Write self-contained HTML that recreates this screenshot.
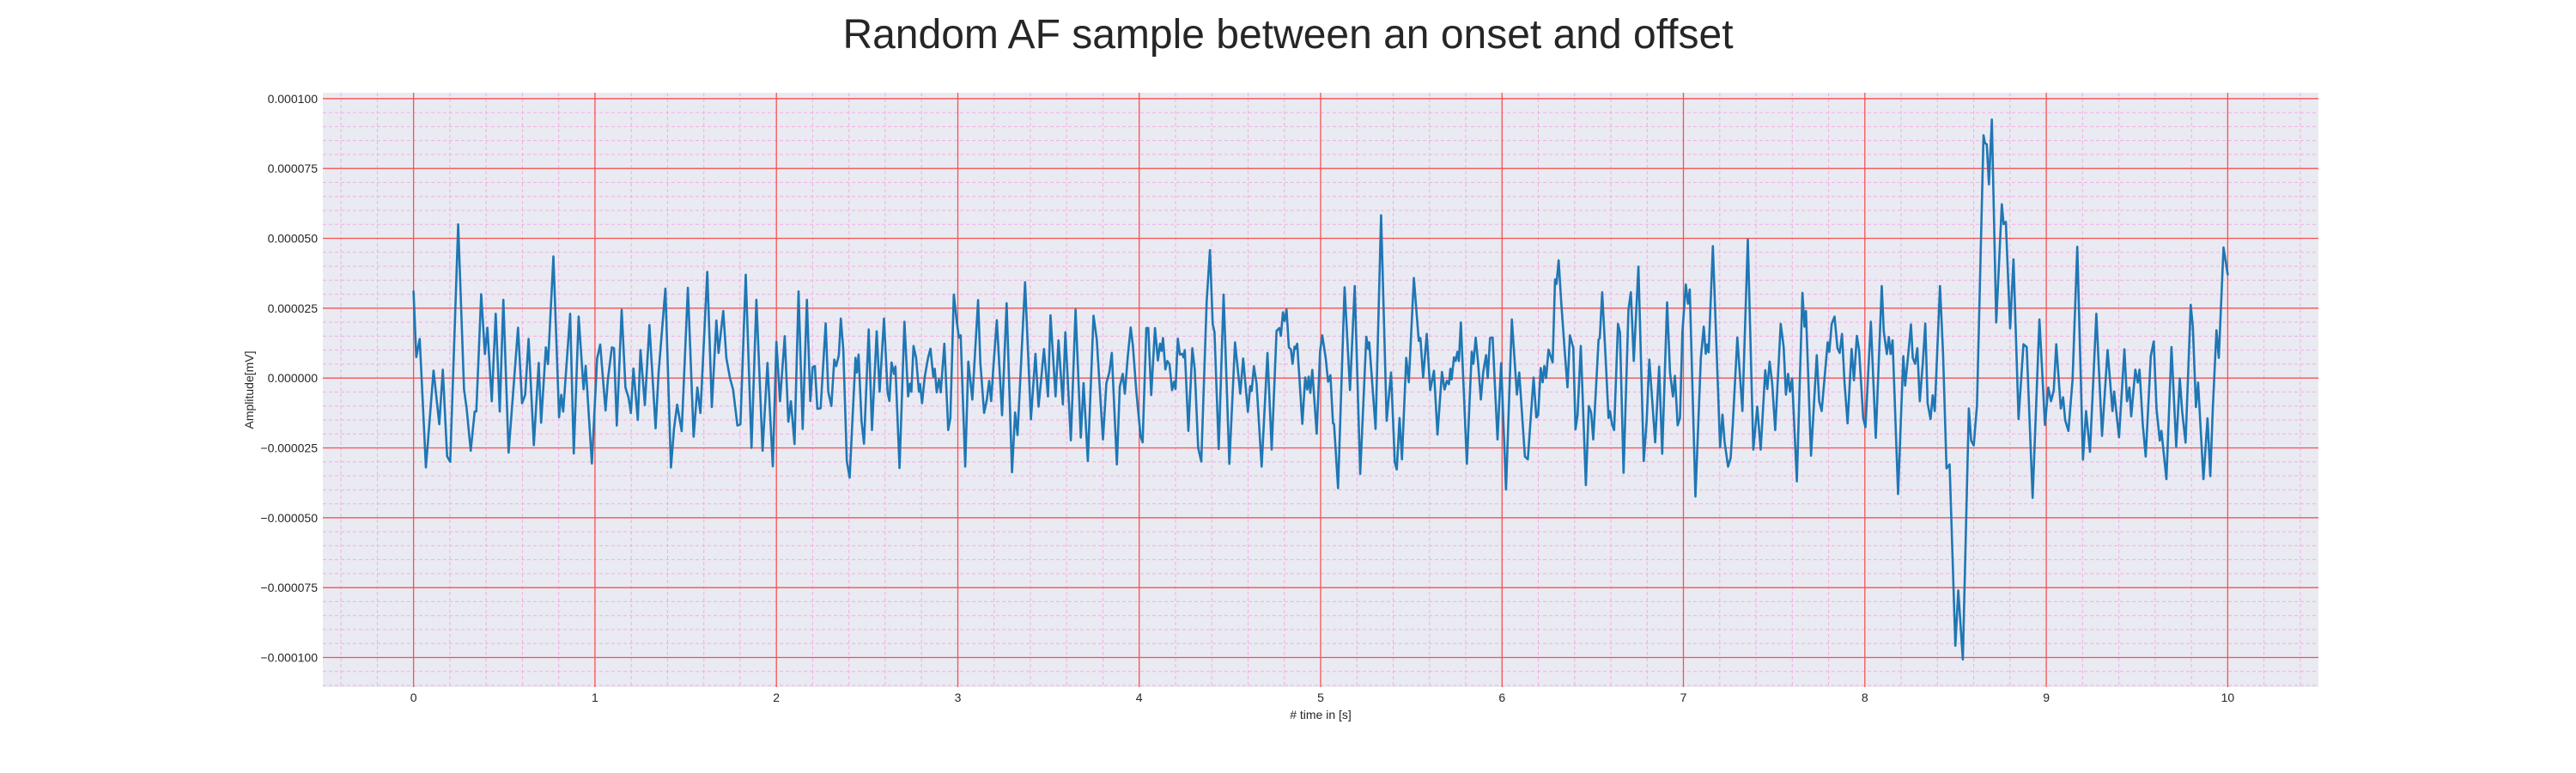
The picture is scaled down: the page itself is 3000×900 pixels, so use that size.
<!DOCTYPE html>
<html><head><meta charset="utf-8">
<style>
html,body{margin:0;padding:0;background:#fff;}
svg{display:block;font-family:"Liberation Sans",Arial,sans-serif;}
</style></head>
<body>
<svg id="chart" width="3000" height="900" viewBox="0 0 3000 900" xmlns="http://www.w3.org/2000/svg">
  <text x="1500" y="56" text-anchor="middle" font-size="48" fill="#262626">Random AF sample between an onset and offset</text>
  <rect x="376" y="108" width="2324" height="692" fill="#eaeaf2"/>
  <g id="minor-grid"></g>
  <g id="major-grid"></g>
  <g id="series"></g>
  <g id="yticks"></g>
  <g id="xticks"></g>
  <text x="1538" y="837" text-anchor="middle" font-size="14" fill="#262626"># time in [s]</text>
  <text x="0" y="0" transform="translate(295,454) rotate(-90)" text-anchor="middle" font-size="14" fill="#262626">Amplitude[mV]</text>
</svg>
<script>
// ---- data ----
const xTickValues = [0,1,2,3,4,5,6,7,8,9,10];
const yTickValues = [0.0001,0.000075,0.00005,0.000025,0,-0.000025,-0.00005,-0.000075,-0.0001];
const yTickLabels = ["0.000100","0.000075","0.000050","0.000025","0.000000","\u22120.000025","\u22120.000050","\u22120.000075","\u22120.000100"];
const timeS = [
0.000,0.015,0.034,0.068,0.110,0.142,0.161,0.185,0.202,0.246,0.278,0.293,0.315,0.337,0.346,0.373,0.393,0.407,0.431,0.453,0.475,0.495,0.524,0.576,0.598,0.615,0.634,0.663,0.690,0.703,0.729,0.741,0.771,0.802,0.814,0.825,0.863,0.883,0.910,0.937,0.949,0.983,1.012,1.029,1.058,1.071,1.093,1.105,1.120,1.147,1.168,1.185,1.198,1.212,1.236,1.251,1.275,1.300,1.334,1.351,1.388,1.419,1.436,1.453,1.478,1.512,1.544,1.564,1.581,1.619,1.644,1.669,1.681,1.707,1.724,1.744,1.761,1.785,1.802,1.831,1.863,1.890,1.924,1.951,1.980,2.000,2.020,2.046,2.066,2.080,2.100,2.122,
2.145,2.168,2.187,2.200,2.212,2.226,2.244,2.272,2.286,2.303,2.319,2.330,2.344,2.355,2.369,2.388,2.404,2.436,2.443,2.453,2.469,2.483,2.509,2.527,2.553,2.569,2.593,2.613,2.623,2.635,2.648,2.656,2.679,2.706,2.726,2.736,2.744,2.756,2.770,2.786,2.792,2.803,2.818,2.836,2.849,2.865,2.873,2.884,2.896,2.906,2.926,2.947,2.959,2.978,2.994,3.006,3.016,3.041,3.058,3.080,3.112,3.124,3.145,3.160,3.173,3.184,3.195,3.215,3.244,3.269,3.299,3.316,3.329,3.371,3.403,3.428,3.445,3.458,3.475,3.497,3.511,3.539,3.555,3.579,3.593,3.623,3.649,3.678,3.693,3.717,3.748,3.766,3.800,3.819,3.835,3.849,3.877,3.893,3.909,3.921,3.937,3.953,3.965,3.984,4.008,4.019,4.039,4.050,
4.066,4.087,4.103,4.115,4.123,4.131,4.144,4.155,4.167,4.181,4.192,4.200,4.213,4.224,4.237,4.244,4.251,4.271,4.293,4.306,4.325,4.342,4.372,4.390,4.405,4.415,4.438,4.465,4.497,4.528,4.557,4.573,4.599,4.612,4.620,4.632,4.647,4.675,4.707,4.730,4.757,4.773,4.781,4.792,4.801,4.812,4.825,4.836,4.845,4.856,4.861,4.871,4.899,4.915,4.926,4.934,4.943,4.954,4.978,4.997,5.009,5.028,5.041,5.054,5.068,5.074,5.096,5.132,5.162,5.188,5.218,5.252,5.262,5.268,5.303,5.333,5.364,5.388,5.409,5.420,5.435,5.448,5.472,5.486,5.514,5.541,5.550,5.565,5.585,5.604,5.625,5.644,5.669,5.683,5.696,5.707,5.715,5.722,5.735,5.744,5.754,5.762,5.773,5.806,5.833,5.842,5.855,5.868,5.883,5.896,5.912,5.921,5.934,5.948,5.975,5.995,6.022,
6.054,6.082,6.095,6.126,6.142,6.174,6.189,6.199,6.213,6.224,6.233,6.243,6.256,6.279,6.292,6.300,6.312,6.326,6.347,6.361,6.374,6.393,6.405,6.416,6.434,6.462,6.478,6.491,6.503,6.532,6.539,6.552,6.571,6.587,6.595,6.606,6.618,6.639,6.650,6.670,6.697,6.710,6.726,6.752,6.781,6.797,6.812,6.844,6.866,6.883,6.910,6.926,6.942,6.953,6.968,6.981,6.994,7.013,7.025,7.035,7.066,7.096,7.112,7.123,7.132,7.139,7.162,7.202,7.215,7.227,7.246,7.260,7.273,7.297,7.325,7.355,7.385,7.407,7.426,7.451,7.462,7.475,7.489,7.506,7.536,7.552,7.565,7.577,7.587,7.599,7.625,7.656,7.667,7.675,7.703,7.735,7.748,7.762,7.795,7.804,7.817,7.833,7.849,7.861,7.874,7.888,7.905,7.927,7.940,7.956,7.968,7.991,8.003,8.014,
8.033,8.060,8.093,8.104,8.121,8.132,8.142,8.153,8.183,8.212,8.222,8.235,8.254,8.264,8.277,8.289,8.303,8.320,8.333,8.346,8.362,8.374,8.385,8.414,8.431,8.450,8.467,8.499,8.515,8.540,8.573,8.586,8.600,8.618,8.654,8.662,8.672,8.684,8.700,8.724,8.755,8.765,8.777,8.801,8.819,8.847,8.874,8.892,8.925,8.962,8.993,9.011,9.026,9.041,9.055,9.080,9.093,9.104,9.122,9.145,9.171,9.202,9.219,9.241,9.276,9.307,9.338,9.365,9.374,9.401,9.431,9.445,9.458,9.468,9.491,9.504,9.514,9.532,9.548,9.576,9.592,9.608,9.626,9.635,9.662,9.690,9.716,9.736,9.749,9.768,9.796,9.808,9.825,9.837,9.866,9.889,9.904,9.918,9.938,9.951,9.977,10.000
];
// amplitude in units of 1e-5 mV
const ampE5 = [
3.1,0.75,1.4,-3.2,0.27,-1.65,0.3,-2.8,-3.0,5.5,-0.4,-1.1,-2.6,-1.2,-1.2,3.0,0.86,1.8,-0.83,2.3,-1.2,2.8,-2.67,1.8,-0.9,-0.6,1.4,-2.4,0.54,-1.6,1.1,0.5,4.35,-1.4,-0.6,-1.2,2.3,-2.7,2.2,-0.4,0.44,-3.06,0.7,1.2,-1.16,-0.06,1.1,1.07,-1.7,2.44,-0.34,-0.7,-1.25,0.34,-1.5,1.0,-0.97,1.9,-1.8,0.23,3.2,-3.2,-1.8,-0.95,-1.9,3.23,-2.1,-0.34,-1.25,3.8,-1.04,2.06,0.9,2.4,0.72,0,-0.4,-1.7,-1.65,3.7,-2.5,2.8,-2.6,0.54,-3.16,1.3,-0.83,1.5,-1.56,-0.83,-2.36,3.1,
-1.82,2.8,-0.82,0.39,0.43,-1.1,-1.08,1.96,-0.49,-1.0,0.66,0.43,0.82,2.13,1.02,-2.97,-3.56,0.72,0.2,0.84,-1.53,-2.35,1.74,-1.86,1.67,-0.49,2.13,-0.51,-0.82,0.56,0.15,0.41,-3.22,2.02,-0.66,-0.2,-0.49,1.15,0.72,-0.49,-0.22,-0.9,0.05,0.72,1.05,0.05,0.33,-0.51,-0.05,-0.51,1.23,-1.86,-1.43,2.99,2.04,1.45,1.53,-3.17,0.59,-0.77,2.79,0.56,-1.25,-0.77,-0.1,-0.82,0.31,2.07,-1.33,2.68,-3.37,-1.23,-2.04,3.43,-1.48,0.87,-1.02,-0.15,1.04,-0.66,2.25,-0.66,1.35,-0.94,1.64,-2.23,2.45,-2.13,-0.18,-2.97,2.23,1.38,-2.2,-0.18,0.2,0.9,-3.09,-0.31,0.15,-0.56,0.77,1.81,1.18,-0.46,-2.1,-2.3,1.79,1.79,
-0.61,1.79,0.63,1.23,0.97,1.43,0.31,0.61,0.49,-0.43,-0.13,-0.39,1.41,0.84,0.87,0.74,1.0,-1.89,1.07,0.31,-2.5,-2.99,2.76,4.58,1.94,1.64,-2.54,2.99,-3.07,1.28,-0.56,0.7,-1.21,-0.29,-0.46,0.43,-0.2,-3.17,0.9,-2.56,1.69,1.79,1.51,2.35,2.04,2.45,1.1,1.02,0.51,1.12,1.04,1.23,-1.64,0.02,-0.41,0.05,-0.53,0.29,-1.99,0.97,1.53,0.72,-0.13,0.1,-1.62,-1.64,-3.94,3.25,-0.43,3.29,-3.43,1.48,1.04,1.28,-1.82,5.83,-1.53,0.2,-3.02,-3.27,-1.43,-2.91,0.72,-0.15,3.58,1.33,1.43,0.02,1.58,-0.43,0.26,-2.02,0.22,-0.41,-0.1,-0.22,0.33,-0.05,0.74,0.61,0.94,0.61,1.99,-3.07,0.94,0.51,1.45,0.53,-0.77,0.2,0.82,0,1.43,1.45,-2.2,0.53,-3.99,
2.1,-0.59,0.2,-2.81,-2.91,0.02,-1.41,-1.33,0.36,-0.15,0.43,0,1.02,0.56,3.53,3.37,4.21,2.76,0.82,-0.33,1.53,1.07,-1.84,-1.33,1.15,-3.83,-1.0,-1.23,-2.2,1.38,1.43,3.07,0.72,-1.43,-1.18,-1.64,-1.86,1.94,1.64,-3.39,2.45,3.07,0.61,3.99,-2.97,-1.53,0.66,-2.3,0.41,-2.71,2.71,0.2,-0.66,0.08,-1.69,-1.43,1.64,3.35,2.66,3.17,-4.24,0.72,1.84,0.87,1.2,0.92,4.72,-2.47,-1.31,-2.3,-3.17,-2.86,-1.53,1.45,-1.18,4.96,-2.56,-1.02,-2.56,0.28,-0.39,0.59,-0.2,-1.86,1.94,1.12,-0.59,0.15,-0.49,-0.02,-3.7,3.05,1.84,2.4,-2.78,0.82,-0.82,-1.18,1.28,0.94,1.94,2.2,1.07,0.9,1.58,-0.2,-1.62,1.04,-0.08,1.51,1.0,-1.43,-1.76,-0.36,
2.02,-2.14,3.29,1.68,0.86,1.47,0.86,1.35,-4.15,0.79,-0.27,0.58,1.92,0.72,0.51,1.07,-0.83,0.58,1.95,-0.9,-1.47,-0.62,-1.18,3.29,0.86,-3.23,-3.09,-9.58,-7.6,-10.07,-1.09,-2.24,-2.41,-0.97,8.69,8.41,8.36,6.93,9.25,1.99,6.22,5.51,5.59,1.78,4.25,-1.47,1.21,1.11,-4.29,2.1,-1.68,-0.34,-0.83,-0.44,1.21,-1.09,-0.69,-1.51,-1.89,-0.06,4.7,-2.92,-1.18,-2.64,2.3,-2.07,1.0,-1.18,-0.48,-2.12,1.03,-0.83,-0.34,-1.37,0.3,-0.16,0.3,-1.68,-2.81,0.79,1.31,-1.11,-2.24,-1.89,-3.62,1.11,-2.45,-0.01,-1.18,-2.31,2.62,1.82,-1.04,-0.16,-3.62,-1.44,-3.51,-1.11,1.71,0.72,4.67,3.71
];

// ---- axes ----
const PX0 = 376, PX1 = 2700, PY0 = 108, PY1 = 800;
const XMIN = -0.5, XMAX = 10.5, YMIN = -1.106e-4, YMAX = 1.021e-4;
function xScale(t){ return PX0 + (t - XMIN) / (XMAX - XMIN) * (PX1 - PX0); }
function yScale(v){ return PY1 - (v - YMIN) / (YMAX - YMIN) * (PY1 - PY0); }
const NS = "http://www.w3.org/2000/svg";
function mk(tag, attrs){ const e = document.createElementNS(NS, tag); for (const k in attrs) e.setAttribute(k, attrs[k]); return e; }

const minorG = document.getElementById('minor-grid');
for (let i = -2; i <= 52; i++) {
  const t = i * 0.2; if (i % 5 === 0) continue;
  const x = xScale(t).toFixed(1);
  const l = mk('line', {x1:x, x2:x, y1:PY0, y2:PY1, stroke:'#f2aee2', 'stroke-width':1, 'stroke-dasharray':'4,3'});
  
  
  minorG.appendChild(l);
}
for (let i = -22; i <= 20; i++) {
  if (i % 5 === 0) continue;
  const y = yScale(i * 0.5e-5).toFixed(1);
  const l = mk('line', {x1:PX0, x2:PX1, y1:y, y2:y, stroke:'#f2aee2', 'stroke-width':1, 'stroke-dasharray':'4,3'});
  
  
  minorG.appendChild(l);
}
const majorG = document.getElementById('major-grid');
const xtG = document.getElementById('xticks');
xTickValues.forEach(function(t){
  const x = xScale(t).toFixed(1);
  const l = mk('line', {x1:x, x2:x, y1:PY0, y2:PY1, stroke:'#f55252', 'stroke-width':1.3});
  
  
  majorG.appendChild(l);
  const tx = mk('text', {x:x, y:817, 'text-anchor':'middle', 'font-size':14, fill:'#262626'});
  tx.textContent = String(t);
  
  
  xtG.appendChild(tx);
});
const ytG = document.getElementById('yticks');
yTickValues.forEach(function(v, i){
  const y = yScale(v).toFixed(1);
  const l = mk('line', {x1:PX0, x2:PX1, y1:y, y2:y, stroke:'#f55252', 'stroke-width':1.3});
  
  
  majorG.appendChild(l);
  const tx = mk('text', {x:370, y:(+y + 5).toFixed(1), 'text-anchor':'end', 'font-size':14, fill:'#262626'});
  tx.textContent = yTickLabels[i];
  
  
  ytG.appendChild(tx);
});

// ---- series ----
const pts = timeS.map(function(t, i){ return xScale(t).toFixed(1) + ',' + yScale(ampE5[i] * 1e-5).toFixed(1); }).join(' ');
const line = mk('polyline', {points:pts, fill:'none', stroke:'#1f77b4', 'stroke-width':2.6, 'stroke-linejoin':'round', 'stroke-linecap':'round'});


document.getElementById('series').appendChild(line);
</script>
</body></html>
